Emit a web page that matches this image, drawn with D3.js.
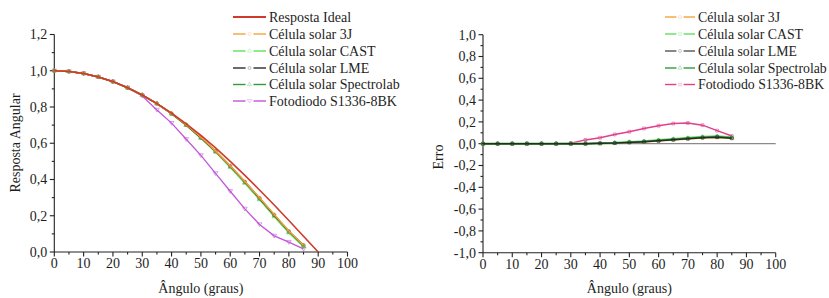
<!DOCTYPE html>
<html><head><meta charset="utf-8">
<script src="https://cdn.jsdelivr.net/npm/d3@7"></script>
<style>body{margin:0;background:#fff}svg{display:block}</style>
</head><body><svg id="c" width="829" height="298" font-family="Liberation Serif"></svg>
<script>
const angles = [0,5,10,15,20,25,30,35,40,45,50,55,60,65,70,75,80,85];
const anglesIdeal = [0,5,10,15,20,25,30,35,40,45,50,55,60,65,70,75,80,85,90];
const ideal = [1.000,0.996,0.985,0.966,0.940,0.906,0.866,0.819,0.766,0.707,0.643,0.574,0.500,0.423,0.342,0.259,0.174,0.087,0.000];
const resp3J   = [1.000,0.996,0.985,0.966,0.940,0.906,0.866,0.819,0.764,0.702,0.633,0.558,0.476,0.389,0.299,0.207,0.116,0.037];
const respCAST = [1.000,0.996,0.985,0.966,0.940,0.906,0.866,0.819,0.762,0.699,0.628,0.552,0.468,0.380,0.289,0.196,0.106,0.029];
const respLME  = [1.000,0.996,0.985,0.966,0.940,0.906,0.866,0.819,0.763,0.701,0.631,0.556,0.474,0.387,0.297,0.204,0.114,0.037];
const respSpec = [1.000,0.996,0.985,0.966,0.940,0.906,0.866,0.819,0.763,0.700,0.630,0.554,0.470,0.383,0.292,0.199,0.109,0.032];
const respFoto = [1.000,0.996,0.985,0.966,0.940,0.906,0.861,0.784,0.711,0.622,0.533,0.434,0.335,0.238,0.152,0.089,0.054,0.017];
const err3J   = [0,0,0,0,0,0,0,0,0.002,0.005,0.010,0.016,0.024,0.034,0.043,0.052,0.058,0.050];
const errCAST = [0,0,0,0,0,0,0,0,0.004,0.008,0.015,0.022,0.032,0.043,0.053,0.063,0.068,0.058];
const errLME  = [0,0,0,0,0,0,0,0,0.003,0.006,0.012,0.018,0.026,0.036,0.045,0.055,0.060,0.050];
const errSpec = [0,0,0,0,0,0,0,0,0.003,0.007,0.013,0.020,0.030,0.040,0.050,0.060,0.065,0.055];
const errFoto = [0,0,0,0,0,0,0.005,0.035,0.055,0.085,0.110,0.140,0.165,0.185,0.190,0.170,0.120,0.070];
const xTicks = [0,10,20,30,40,50,60,70,80,90,100];
const yTicksLeft = [0,0.2,0.4,0.6,0.8,1.0,1.2];
const yTicksRight = [-1,-0.8,-0.6,-0.4,-0.2,0,0.2,0.4,0.6,0.8,1.0];
const namesLeft = ["Resposta Ideal","Célula solar 3J","Célula solar CAST","Célula solar LME","Célula solar Spectrolab","Fotodiodo S1336-8BK"];
const namesRight = ["Célula solar 3J","Célula solar CAST","Célula solar LME","Célula solar Spectrolab","Fotodiodo S1336-8BK"];

const svg = d3.select("#c");
const fmt = d => d3.format(".1f")(d).replace(".", ",").replace("−","-");
const FS = 14;
const TXT = "#1e1e1e";

function axes(g, x, y, yTicks, yMinor) {
  const x0 = x.range()[0], x1 = x.range()[1], y0 = y.range()[0], y1 = y.range()[1];
  const ax = g.append("g").attr("stroke","#222").attr("stroke-width",1.1);
  ax.append("line").attr("x1",x0).attr("x2",x1).attr("y1",y0).attr("y2",y0);
  ax.append("line").attr("x1",x0).attr("x2",x0).attr("y1",y0).attr("y2",y1);
  d3.range(0,101,5).forEach(v => {
    const maj = v % 10 === 0;
    ax.append("line").attr("x1",x(v)).attr("x2",x(v)).attr("y1",y0).attr("y2",y0 + (maj?4.5:2.5));
  });
  yMinor.forEach(v => {
    ax.append("line").attr("x1",x0).attr("x2",x0-2.5).attr("y1",y(v)).attr("y2",y(v));
  });
  yTicks.forEach(v => {
    ax.append("line").attr("x1",x0).attr("x2",x0-4.5).attr("y1",y(v)).attr("y2",y(v));
    g.append("text").attr("x",x0-7).attr("y",y(v)+4.8).attr("text-anchor","end").attr("font-size",FS).attr("fill",TXT).text(fmt(v));
  });
  xTicks.forEach(v => {
    g.append("text").attr("x",x(v)).attr("y",y0+16).attr("text-anchor","middle").attr("font-size",FS).attr("fill",TXT).text(v);
  });
  g.append("text").attr("x",(x0+x1)/2).attr("y",292.5).attr("text-anchor","middle").attr("font-size",FS).attr("fill",TXT).text("Ângulo (graus)");
}

function series(g, x, y, xs, ys, color, sym, width) {
  const pts = xs.map((a,i)=>[x(a), y(ys[i])]);
  g.append("path").attr("d", d3.line()(pts)).attr("fill","none").attr("stroke",color).attr("stroke-width",width||1.5);
  if (sym) {
    g.selectAll(null).data(pts).join("path")
      .attr("transform", d=>`translate(${d[0]},${d[1]})`)
      .attr("d", d3.symbol().type(sym).size(8)).attr("fill","none").attr("stroke",color).attr("stroke-width",0.7).attr("opacity",0.8);
  }
}

function legend(g, xl, xt, yy, items, fs) {
  items.forEach((it,i) => {
    const cy = yy[i];
    if (it.solid) {
      g.append("line").attr("x1",xl).attr("x2",xt-3).attr("y1",cy).attr("y2",cy).attr("stroke",it.color).attr("stroke-width",1.8);
    } else {
      const L = xt-3-xl;
      g.append("line").attr("x1",xl).attr("x2",xl+L*0.38).attr("y1",cy).attr("y2",cy).attr("stroke",it.color).attr("stroke-width",1.4);
      g.append("line").attr("x1",xl+L*0.62).attr("x2",xt-3).attr("y1",cy).attr("y2",cy).attr("stroke",it.color).attr("stroke-width",1.4);
      g.append("path").attr("transform",`translate(${xl+L/2},${cy})`).attr("d",d3.symbol().type(it.sym||d3.symbolCircle).size(7))
        .attr("fill","none").attr("stroke",it.color).attr("stroke-width",0.6).attr("opacity",0.5);
    }
    g.append("text").attr("x",xt).attr("y",cy+4.8).attr("font-size",fs).attr("fill",TXT).text(it.name);
  });
}

const C = {ideal:"#cf3a2c", j3:"#f5a23c", cast:"#5fe05f", lme:"#2a2a2a", spec:"#2f9c3b", fotoL:"#c255d8", fotoR:"#e0408c"};
const triDown = {draw(ctx,size){const r=Math.sqrt(size)/1.2;ctx.moveTo(-r,-r*0.7);ctx.lineTo(r,-r*0.7);ctx.lineTo(0,r*0.9);ctx.closePath();}};

// Left chart
const gL = svg.append("g");
const xL = d3.scaleLinear().domain([0,100]).range([54.3,347.5]);
const yL = d3.scaleLinear().domain([0,1.2]).range([252,34.5]);
axes(gL, xL, yL, yTicksLeft, [0.1,0.3,0.5,0.7,0.9,1.1]);
gL.append("text").attr("transform","translate(20,143) rotate(-90)").attr("text-anchor","middle").attr("font-size",FS).attr("fill",TXT).text("Resposta Angular");
series(gL, xL, yL, angles, respFoto, C.fotoL, triDown, 1.3);
series(gL, xL, yL, angles, respSpec, C.spec, d3.symbolTriangle);
series(gL, xL, yL, angles, respCAST, C.cast, d3.symbolTriangle);
series(gL, xL, yL, angles, respLME, C.lme, d3.symbolCircle);
series(gL, xL, yL, angles, resp3J, C.j3, d3.symbolCircle);
series(gL, xL, yL, anglesIdeal, ideal, C.ideal, null, 1.6);
legend(gL, 233, 269, [17,34,51,68,84.5,101], [
  {name:namesLeft[0], color:C.ideal, solid:true},
  {name:namesLeft[1], color:C.j3},
  {name:namesLeft[2], color:C.cast, sym:d3.symbolTriangle},
  {name:namesLeft[3], color:C.lme},
  {name:namesLeft[4], color:C.spec, sym:d3.symbolTriangle},
  {name:namesLeft[5], color:C.fotoL, sym:triDown}
], FS);

// Right chart
const gR = svg.append("g");
const xR = d3.scaleLinear().domain([0,100]).range([483,775.7]);
const yR = d3.scaleLinear().domain([-1,1]).range([252.7,34.7]);
axes(gR, xR, yR, yTicksRight, [-0.9,-0.7,-0.5,-0.3,-0.1,0.1,0.3,0.5,0.7,0.9]);
gR.append("text").attr("transform","translate(443,157) rotate(-90)").attr("text-anchor","middle").attr("font-size",FS).attr("fill",TXT).text("Erro");
gR.append("line").attr("x1",xR(0)).attr("x2",xR(100)).attr("y1",yR(0)).attr("y2",yR(0)).attr("stroke","#8a8a8a").attr("stroke-width",1.3);
series(gR, xR, yR, angles, err3J, C.j3, d3.symbolCircle);
series(gR, xR, yR, angles, errFoto, C.fotoR, d3.symbolSquare);
series(gR, xR, yR, angles, errCAST, C.cast, d3.symbolSquare, 2.2);
series(gR, xR, yR, angles, errSpec, C.spec, d3.symbolTriangle);
series(gR, xR, yR, angles, errLME, C.lme, d3.symbolSquare);
legend(gR, 665, 698, [17,34,51,68,84.5], [
  {name:namesRight[0], color:C.j3},
  {name:namesRight[1], color:C.cast, sym:d3.symbolSquare},
  {name:namesRight[2], color:"#555"},
  {name:namesRight[3], color:C.spec, sym:d3.symbolTriangle},
  {name:namesRight[4], color:C.fotoR, sym:d3.symbolSquare}
], 13.8);
</script></body></html>
